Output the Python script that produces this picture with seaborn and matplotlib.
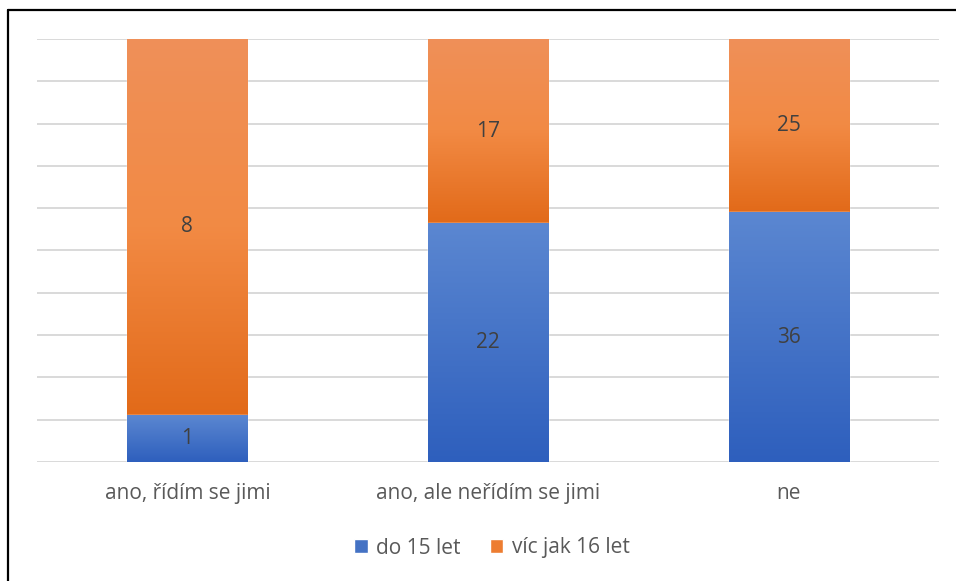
import numpy as np
import pandas as pd
import seaborn as sns
import matplotlib.pyplot as plt
from matplotlib.colors import LinearSegmentedColormap
from matplotlib.lines import Line2D
from matplotlib.patches import Patch

categories = ["ano, řídím se jimi", "ano, ale neřídím se jimi", "ne"]
do_15 = [1, 22, 36]
vic_16 = [8, 17, 25]
series_names = ["do 15 let", "víc jak 16 let"]

df = pd.DataFrame({"kategorie": categories, "do15": do_15, "vic16": vic_16})
df["total"] = df["do15"] + df["vic16"]
df["podil_do15"] = df["do15"] / df["total"] * 100
df["podil_celk"] = 100.0

blue_cmap = LinearSegmentedColormap.from_list("modra", ["#2e5fbd", "#5b87d1"])
orange_cmap = LinearSegmentedColormap.from_list("oranz", ["#e26a19", "#f28a44", "#ef9059"])

sns.set_theme(style="white")
plt.rcParams["font.family"] = ["Open Sans", "DejaVu Sans"]
FS = 15

fig = plt.figure(figsize=(9.56, 5.81), dpi=100)
ax = fig.add_axes([37 / 956, 1 - 462 / 581, (939 - 37) / 956, (462 - 39) / 581])

# 100% skladany graf: oranzova cela vyska, modra pres ni
sns.barplot(data=df, x="kategorie", y="podil_celk", color="#f0883e", saturation=1,
            width=0.4, ax=ax, zorder=2)
sns.barplot(data=df, x="kategorie", y="podil_do15", color="#4472c4", saturation=1,
            width=0.4, ax=ax, zorder=3)

grad = np.linspace(0, 1, 256).reshape(-1, 1)
n = len(categories)
for i, p in enumerate(ax.patches):
    x0, w = p.get_x(), p.get_width()
    if i < n:
        lo, hi, cmap, z = df["podil_do15"].iloc[i], 100, orange_cmap, 2.1
    else:
        lo, hi, cmap, z = 0, p.get_height(), blue_cmap, 3.1
    im = ax.imshow(grad, cmap=cmap, origin="lower", aspect="auto",
                   extent=(x0, x0 + w, lo, hi), zorder=z)
    im.set_clip_path(p)

# popisky hodnot
for i in range(n):
    b = df["podil_do15"].iloc[i]
    ax.text(i, b / 2, str(do_15[i]), ha="center", va="center", fontsize=FS,
            color="#404040", zorder=5)
    ax.text(i, (b + 100) / 2, str(vic_16[i]), ha="center", va="center", fontsize=FS,
            color="#404040", zorder=5)

ax.set_xlim(-0.5, 2.5)
ax.set_ylim(0, 100)
ax.set_yticks(range(0, 101, 10))
ax.set_yticklabels([])
ax.yaxis.grid(True, color="#d9d9d9", lw=1.4)
ax.set_axisbelow(True)
ax.set_xlabel("")
ax.set_ylabel("")
ax.tick_params(axis="both", length=0)
ax.tick_params(axis="x", pad=15, labelsize=FS, labelcolor="#595959")
sns.despine(ax=ax, left=True, bottom=True)

handles = [Patch(facecolor="#4472c4", label=series_names[0]),
           Patch(facecolor="#ed7d31", label=series_names[1])]
fig.legend(handles=handles, loc="center", bbox_to_anchor=(492 / 956, 1 - 548 / 581),
           ncol=2, frameon=False, fontsize=FS, labelcolor="#595959",
           handlelength=0.65, handleheight=0.65, handletextpad=0.4, columnspacing=1.4)

# ramecek
fig.add_artist(Line2D([7.5 / 956, 1], [1 - 9.5 / 581] * 2, transform=fig.transFigure,
                      color="black", lw=1.6))
fig.add_artist(Line2D([7.5 / 956] * 2, [0, 1 - 9.5 / 581], transform=fig.transFigure,
                      color="black", lw=1.6))

fig.savefig("out.png", dpi=100)
